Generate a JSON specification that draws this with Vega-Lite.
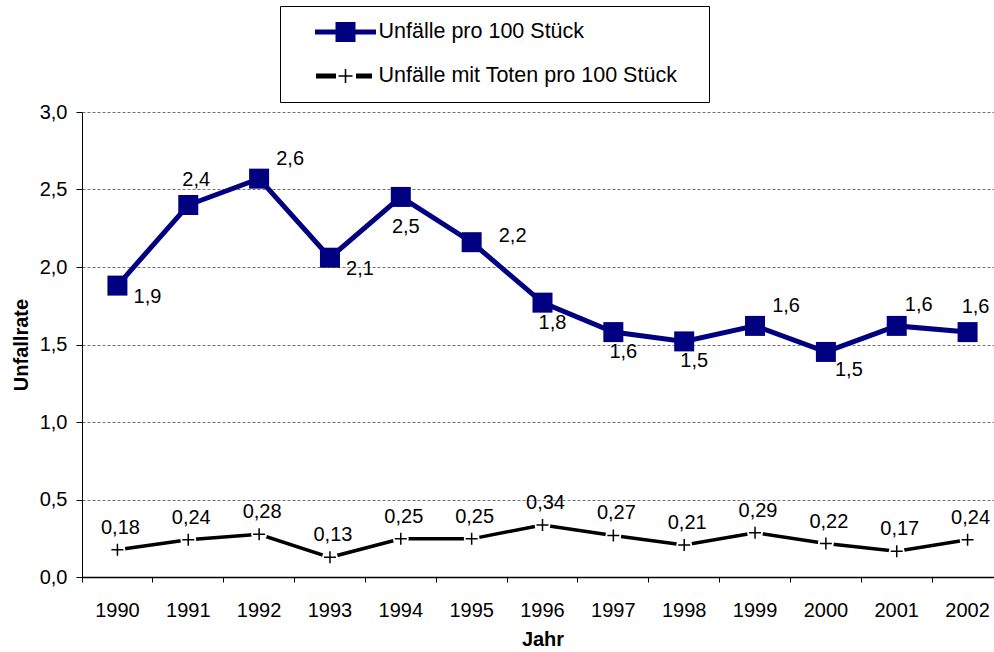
{
  "$schema": "https://vega.github.io/schema/vega-lite/v6.json",
  "width": 912,
  "height": 465,
  "autosize": {"type": "none"},
  "padding": {"left": 82, "top": 112, "right": 0, "bottom": 75},
  "background": "white",
  "config": {
    "locale": {"number": {"decimal": ",", "thousands": ".", "grouping": [3], "currency": ["", " €"]}},
    "font": "Liberation Sans",
    "view": {"stroke": null},
    "axis": {"labelFont": "Liberation Sans", "titleFont": "Liberation Sans", "labelFontSize": 20, "titleFontSize": 20, "labelColor": "black", "titleColor": "black", "domainColor": "black", "tickColor": "black"},
    "text": {"font": "Liberation Sans", "fontSize": 20, "color": "black"}
  },
  "data": {"values": [
    {"year": "1990", "series": "Unfälle pro 100 Stück", "value": 1.88},
    {"year": "1991", "series": "Unfälle pro 100 Stück", "value": 2.40},
    {"year": "1992", "series": "Unfälle pro 100 Stück", "value": 2.57},
    {"year": "1993", "series": "Unfälle pro 100 Stück", "value": 2.06},
    {"year": "1994", "series": "Unfälle pro 100 Stück", "value": 2.452},
    {"year": "1995", "series": "Unfälle pro 100 Stück", "value": 2.16},
    {"year": "1996", "series": "Unfälle pro 100 Stück", "value": 1.77},
    {"year": "1997", "series": "Unfälle pro 100 Stück", "value": 1.58},
    {"year": "1998", "series": "Unfälle pro 100 Stück", "value": 1.52},
    {"year": "1999", "series": "Unfälle pro 100 Stück", "value": 1.62},
    {"year": "2000", "series": "Unfälle pro 100 Stück", "value": 1.452},
    {"year": "2001", "series": "Unfälle pro 100 Stück", "value": 1.62},
    {"year": "2002", "series": "Unfälle pro 100 Stück", "value": 1.58},
    {"year": "1990", "series": "Unfälle mit Toten pro 100 Stück", "value": 0.176},
    {"year": "1991", "series": "Unfälle mit Toten pro 100 Stück", "value": 0.24},
    {"year": "1992", "series": "Unfälle mit Toten pro 100 Stück", "value": 0.276},
    {"year": "1993", "series": "Unfälle mit Toten pro 100 Stück", "value": 0.127},
    {"year": "1994", "series": "Unfälle mit Toten pro 100 Stück", "value": 0.246},
    {"year": "1995", "series": "Unfälle mit Toten pro 100 Stück", "value": 0.246},
    {"year": "1996", "series": "Unfälle mit Toten pro 100 Stück", "value": 0.336},
    {"year": "1997", "series": "Unfälle mit Toten pro 100 Stück", "value": 0.268},
    {"year": "1998", "series": "Unfälle mit Toten pro 100 Stück", "value": 0.206},
    {"year": "1999", "series": "Unfälle mit Toten pro 100 Stück", "value": 0.286},
    {"year": "2000", "series": "Unfälle mit Toten pro 100 Stück", "value": 0.216},
    {"year": "2001", "series": "Unfälle mit Toten pro 100 Stück", "value": 0.166},
    {"year": "2002", "series": "Unfälle mit Toten pro 100 Stück", "value": 0.24}
  ]},
  "encoding": {
    "x": {
      "field": "year", "type": "ordinal",
      "scale": {"type": "band", "range": [0, 921], "paddingInner": 0, "paddingOuter": 0},
      "axis": {"title": "Jahr", "titleFontWeight": "bold", "labelAngle": 0, "bandPosition": 0, "labelOffset": 0, "tickSize": 5, "labelPadding": 18, "titlePadding": 9, "grid": false, "domainWidth": 1.5, "tickWidth": 1}
    },
    "y": {
      "field": "value", "type": "quantitative",
      "scale": {"domain": [0, 3]},
      "axis": {"title": "Unfallrate", "titleFontWeight": "bold", "values": [0, 0.5, 1, 1.5, 2, 2.5, 3], "format": ".1f", "grid": true, "gridColor": "#707070", "gridDash": [3, 2], "gridWidth": 1, "tickSize": 6, "labelPadding": 9, "titlePadding": 8, "domainWidth": 1}
    }
  },
  "layer": [
    {"transform": [{"filter": {"field": "series", "equal": "Unfälle pro 100 Stück"}}],
     "mark": {"type": "line", "color": "#000080", "strokeWidth": 5}},
    {"transform": [{"filter": {"field": "series", "equal": "Unfälle pro 100 Stück"}}],
     "mark": {"type": "point", "shape": "square", "filled": true, "color": "#000080", "size": 400, "opacity": 1}},
    {"transform": [{"filter": {"field": "series", "equal": "Unfälle mit Toten pro 100 Stück"}}],
     "mark": {"type": "line", "color": "black", "strokeWidth": 3.5}},
    {"transform": [{"filter": {"field": "series", "equal": "Unfälle mit Toten pro 100 Stück"}}],
     "mark": {"type": "point", "shape": "circle", "filled": true, "color": "white", "size": 250, "opacity": 1}},
    {"transform": [{"filter": {"field": "series", "equal": "Unfälle mit Toten pro 100 Stück"}}],
     "mark": {"type": "point", "shape": "M-1,0H1M0,-1V1", "filled": false, "color": "black", "strokeWidth": 1.5, "size": 144, "opacity": 1}},
    {"transform": [{"filter": {"field": "series", "equal": "Unfälle mit Toten pro 100 Stück"}}],
     "mark": {"type": "text", "dx": 3, "dy": -22},
     "encoding": {"text": {"field": "value", "type": "quantitative", "format": ".2f"}}},
    {"transform": [{"filter": {"field": "series", "equal": "Unfälle pro 100 Stück"}}, {"filter": {"field": "year", "oneOf": ["1990", "1993"]}}],
     "mark": {"type": "text", "dx": 30, "dy": 11},
     "encoding": {"text": {"field": "value", "type": "quantitative", "format": ".1f"}}},
    {"transform": [{"filter": {"field": "series", "equal": "Unfälle pro 100 Stück"}}, {"filter": {"field": "year", "oneOf": ["1992", "1999"]}}],
     "mark": {"type": "text", "dx": 31, "dy": -20},
     "encoding": {"text": {"field": "value", "type": "quantitative", "format": ".1f"}}},
    {"transform": [{"filter": {"field": "series", "equal": "Unfälle pro 100 Stück"}}, {"filter": {"field": "year", "oneOf": ["1991", "2002"]}}],
     "mark": {"type": "text", "dx": 8, "dy": -25},
     "encoding": {"text": {"field": "value", "type": "quantitative", "format": ".1f"}}},
    {"transform": [{"filter": {"field": "series", "equal": "Unfälle pro 100 Stück"}}, {"filter": {"field": "year", "oneOf": ["1994"]}}],
     "mark": {"type": "text", "dx": 5, "dy": 30},
     "encoding": {"text": {"field": "value", "type": "quantitative", "format": ".1f"}}},
    {"transform": [{"filter": {"field": "series", "equal": "Unfälle pro 100 Stück"}}, {"filter": {"field": "year", "oneOf": ["1995"]}}],
     "mark": {"type": "text", "dx": 41, "dy": -6},
     "encoding": {"text": {"field": "value", "type": "quantitative", "format": ".1f"}}},
    {"transform": [{"filter": {"field": "series", "equal": "Unfälle pro 100 Stück"}}, {"filter": {"field": "year", "oneOf": ["1996", "1997", "1998"]}}],
     "mark": {"type": "text", "dx": 10, "dy": 20},
     "encoding": {"text": {"field": "value", "type": "quantitative", "format": ".1f"}}},
    {"transform": [{"filter": {"field": "series", "equal": "Unfälle pro 100 Stück"}}, {"filter": {"field": "year", "oneOf": ["2000"]}}],
     "mark": {"type": "text", "dx": 23, "dy": 18},
     "encoding": {"text": {"field": "value", "type": "quantitative", "format": ".1f"}}},
    {"transform": [{"filter": {"field": "series", "equal": "Unfälle pro 100 Stück"}}, {"filter": {"field": "year", "oneOf": ["2001"]}}],
     "mark": {"type": "text", "dx": 22, "dy": -21},
     "encoding": {"text": {"field": "value", "type": "quantitative", "format": ".1f"}}},
    {"transform": [{"filter": "false"}],
     "mark": {"type": "point", "filled": true, "opacity": 1},
     "encoding": {
       "color": {"field": "series", "type": "nominal",
         "scale": {"domain": ["Unfälle pro 100 Stück", "Unfälle mit Toten pro 100 Stück"], "range": ["#000080", "black"]},
         "legend": {"title": "\u00a0", "titleOrient": "right", "titlePadding": 26, "titleFontSize": 20, "orient": "none", "legendX": 198, "legendY": -106, "symbolSize": 1600, "symbolStrokeWidth": 0, "symbolOffset": 39.5, "labelOffset": 13, "labelFontSize": 21.5, "labelFont": "Liberation Sans", "labelColor": "black", "labelLimit": 600, "padding": 6, "rowPadding": 4, "clipHeight": 40, "strokeColor": "black", "fillColor": "white"}},
       "shape": {"field": "series", "type": "nominal",
         "scale": {"domain": ["Unfälle pro 100 Stück", "Unfälle mit Toten pro 100 Stück"], "range": ["M-1.525,-0.12H1.525V0.12H-1.525Z M-0.5,-0.5H0.5V0.5H-0.5Z", "M-1.475,-0.12H-0.475V0.12H-1.475Z M0.525,-0.12H1.325V0.12H0.525Z M-0.35,-0.04H0.35V0.04H-0.35Z M-0.04,-0.35H0.04V0.35H-0.04Z"]},
         "legend": {"title": "\u00a0", "titleOrient": "right", "titlePadding": 26, "titleFontSize": 20, "orient": "none", "legendX": 198, "legendY": -106, "symbolSize": 1600, "symbolStrokeWidth": 0, "symbolOffset": 39.5, "labelOffset": 13, "labelFontSize": 21.5, "labelFont": "Liberation Sans", "labelColor": "black", "labelLimit": 600, "padding": 6, "rowPadding": 4, "clipHeight": 40, "strokeColor": "black", "fillColor": "white"}}
     }}
  ]
}
